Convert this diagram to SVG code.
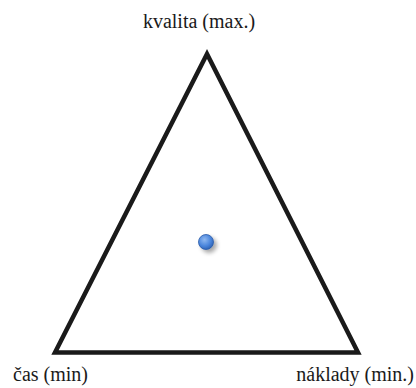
<svg xmlns="http://www.w3.org/2000/svg" width="416" height="388" viewBox="0 0 416 388">
<style>
.lbl{font-family:"Liberation Serif","DejaVu Serif",serif;font-size:20px;fill:#1a1a1a}
.tri{fill:none;stroke:#1a1a1a;stroke-width:4.5;stroke-linejoin:miter;stroke-miterlimit:10}
</style>
<defs>
<radialGradient id="ball" cx="0.4" cy="0.35" r="0.7">
<stop offset="0" stop-color="#8fb8f0"/>
<stop offset="0.6" stop-color="#4a85dc"/>
<stop offset="1" stop-color="#2c5fb0"/>
</radialGradient>
<filter id="sh" x="-1" y="-1" width="3" height="3">
<feGaussianBlur in="SourceAlpha" stdDeviation="2"/>
<feOffset dx="3" dy="3"/>
<feComponentTransfer><feFuncA type="linear" slope="0.35"/></feComponentTransfer>
<feMerge><feMergeNode/><feMergeNode in="SourceGraphic"/></feMerge>
</filter>
</defs>
<g id="triangle">
<polygon class="tri" points="207,54 55,352.5 358,352.5"/>
</g>
<g id="labels">
<text class="lbl" x="199" y="28" text-anchor="middle">kvalita (max.)</text>
<text class="lbl" x="13" y="381">čas (min)</text>
<text class="lbl" x="414" y="381" text-anchor="end">náklady (min.)</text>
</g>
<g id="point">
<circle cx="206" cy="242" r="7.5" fill="url(#ball)" stroke="#2a5aa8" stroke-width="0.8" filter="url(#sh)"/>
</g>
</svg>
